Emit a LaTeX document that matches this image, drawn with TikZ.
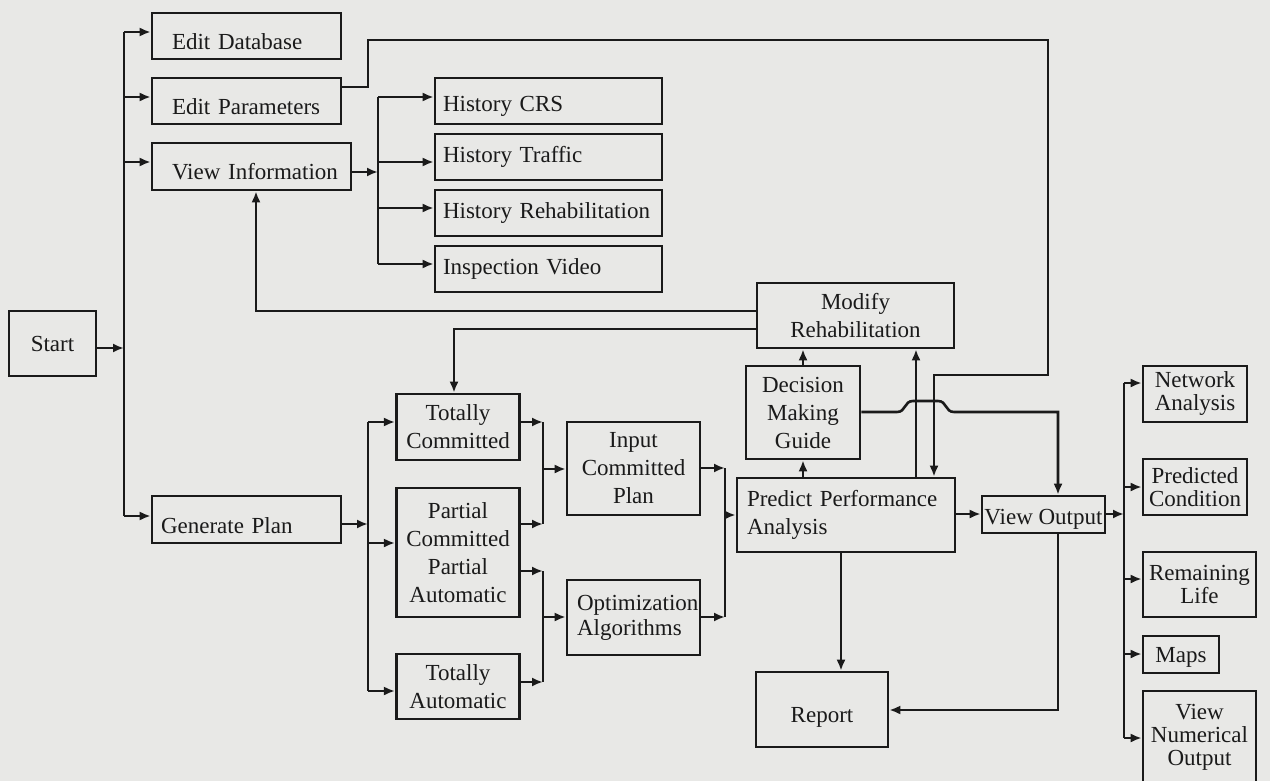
\documentclass[tikz,border=0pt]{standalone}
\usepackage{fontspec}
\setmainfont{Liberation Serif}
\usetikzlibrary{arrows.meta}
\definecolor{bg}{HTML}{E8E8E6}
\definecolor{ink}{HTML}{1A1A1A}
\begin{document}
\begin{tikzpicture}[x=1pt,y=-1pt,color=ink,line width=2.6pt,
  box/.style={draw=ink,rectangle,inner sep=0pt,text=ink,align=center,
    font=\fontsize{23}{28}\selectfont},
  rbox/.style={box,font=\fontsize{23}{23}\selectfont},
  arr/.style={-{Latex[length=11pt,width=9pt]}}]
\fill[bg] (0,0) rectangle (1270,781);
\useasboundingbox (0,0) rectangle (1270,781);

% ---------- boxes ----------
\node[box,minimum width=87pt,minimum height=65pt,text height=15pt,text depth=0pt] (start) at (52.5,343.5) {Start};
\node[box,minimum width=189pt,minimum height=46pt,align=left,inner xsep=20pt,text width=149pt,text height=27pt,text depth=0pt] (editdb) at (246.5,36) {\mbox{Edit Database}};
\node[box,minimum width=189pt,minimum height=46pt,align=left,inner xsep=20pt,text width=149pt,text height=27pt,text depth=0pt] (editpar) at (246.5,101) {\mbox{Edit Parameters}};
\node[box,minimum width=199pt,minimum height=47pt,align=left,inner xsep=20pt,text width=159pt,text height=27pt,text depth=0pt] (viewinfo) at (251.5,166.5) {\mbox{View Information}};
\node[box,minimum width=227pt,minimum height=46pt,align=left,inner xsep=8pt,text width=211pt,text height=21pt,text depth=0pt] (hcrs) at (548.5,101) {\mbox{History CRS}};
\node[box,minimum width=227pt,minimum height=46pt,align=left,inner xsep=8pt,text width=211pt] (htraf) at (548.5,157) {\mbox{History Traffic}};
\node[box,minimum width=227pt,minimum height=46pt,align=left,inner xsep=8pt,text width=211pt] (hrehab) at (548.5,213) {\mbox{History Rehabilitation}};
\node[box,minimum width=227pt,minimum height=46pt,align=left,inner xsep=8pt,text width=211pt] (insp) at (548.5,269) {\mbox{Inspection Video}};
\node[box,minimum width=197pt,minimum height=65pt] (modify) at (855.5,315.5) {Modify\\Rehabilitation};
\node[box,minimum width=114pt,minimum height=93pt] (dmg) at (803,412.5) {Decision\\Making\\Guide};
\node[box,minimum width=218pt,minimum height=74pt,align=left,inner xsep=10pt,text width=198pt] (ppa) at (846,515) {\mbox{Predict Performance}\\Analysis};
\node[box,minimum width=123pt,minimum height=37pt,text height=19pt,text depth=0pt] (viewout) at (1043.5,514.5) {View Output};
\node[box,minimum width=132pt,minimum height=75pt,text height=25pt,text depth=0pt] (report) at (822,709.5) {Report};
\node[rbox,minimum width=104pt,minimum height=56pt] (netan) at (1195,394) {Network\\Analysis};
\node[rbox,minimum width=104pt,minimum height=56pt] (predcond) at (1195,487) {Predicted\\Condition};
\node[rbox,minimum width=113pt,minimum height=65pt] (remlife) at (1199.5,584.5) {Remaining\\Life};
\node[rbox,minimum width=76pt,minimum height=37pt,text height=15pt,text depth=0pt] (maps) at (1181,654.5) {Maps};
\node[rbox,minimum width=113pt,minimum height=92pt] (viewnum) at (1199.5,737) {View\\Numerical\\Output};
\node[box,minimum width=189pt,minimum height=47pt,align=left,inner xsep=9pt,text width=171pt,text height=27pt,text depth=0pt] (genplan) at (246.5,519.5) {\mbox{Generate Plan}};
\node[box,minimum width=123.5pt,minimum height=66pt] (tc) at (458,427) {Totally\\Committed};
\node[box,minimum width=123.5pt,minimum height=129pt] (pcpa) at (458,552.5) {Partial\\Committed\\Partial\\Automatic};
\node[box,minimum width=123.5pt,minimum height=65pt] (ta) at (458,686.5) {Totally\\Automatic};
\node[box,minimum width=133pt,minimum height=93pt] (icp) at (633.5,468.5) {Input\\Committed\\Plan};
\node[box,minimum width=133pt,minimum height=75pt,align=left,inner xsep=10pt,text width=113pt,font=\fontsize{23}{25}\selectfont] (opt) at (633.5,617.5) {\mbox{Optimization}\\Algorithms};

% ---------- junction coordinates ----------
\coordinate (tA) at (124,32);
\coordinate (tB) at (124,97);
\coordinate (tC) at (124,162);
\coordinate (tS) at (124,348);
\coordinate (tD) at (124,516);
\coordinate (hA) at (378,97);
\coordinate (hB) at (378,162);
\coordinate (hC) at (378,208);
\coordinate (hD) at (378,264);
\coordinate (hV) at (378,172);
\coordinate (pA) at (368,87);
\coordinate (pB) at (1048,40);
\coordinate (pC) at (934,375);
\coordinate (mA) at (256,311);
\coordinate (mB) at (454,329);
\coordinate (vA) at (916,400);
\coordinate (bA) at (897,412);
\coordinate (bB) at (954,412);
\coordinate (vO) at (1058,412);
\coordinate (oA) at (960,514);
\coordinate (rV) at (1124,514);
\coordinate (rA) at (1124,383);
\coordinate (rB) at (1124,487);
\coordinate (rC) at (1124,579);
\coordinate (rD) at (1124,654);
\coordinate (rE) at (1124,738);
\coordinate (vR) at (1058,710);
\coordinate (pR) at (841,600);
\coordinate (gA) at (368,422);
\coordinate (gB) at (368,543);
\coordinate (gC) at (368,691);
\coordinate (gV) at (368,524);
\coordinate (jA) at (543,422);
\coordinate (jB) at (543,524);
\coordinate (jI) at (543,469);
\coordinate (jC) at (543,571);
\coordinate (jD) at (543,682);
\coordinate (jO) at (543,617);
\coordinate (kA) at (725,468);
\coordinate (kB) at (725,617);
\coordinate (kP) at (725,515);

% ---------- connectors ----------
\draw (tA) -- (tD);
\draw[arr] (start.east |- tS) -- (tS);
\draw[arr] (tA) -- (editdb.west |- tA);
\draw[arr] (tB) -- (editpar.west |- tB);
\draw[arr] (tC) -- (viewinfo.west |- tC);
\draw[arr] (tD) -- (genplan.west |- tD);

\draw (hA) -- (hD);
\draw[arr] (viewinfo.east |- hV) -- (hV);
\draw[arr] (hA) -- (hcrs.west |- hA);
\draw[arr] (hB) -- (htraf.west |- hB);
\draw[arr] (hC) -- (hrehab.west |- hC);
\draw[arr] (hD) -- (insp.west |- hD);

\draw[arr] (editpar.east |- pA) -- (pA) |- (pB) |- (pC) -- (pC |- ppa.north);
\draw[arr] (modify.west |- mA) -- (mA) -- (mA |- viewinfo.south);
\draw[arr] (modify.west |- mB) -- (mB) -- (mB |- tc.north);
\draw[arr] (dmg.north) -- (dmg.north |- modify.south);
\draw[arr] (dmg.south |- ppa.north) -- (dmg.south);
\draw[arr] (vA |- ppa.north) -- (vA |- modify.south);
\draw[arr] (dmg.east |- bA) -- (bA) .. controls (906,412) and (904,401) .. (913,401) -- (938,401) .. controls (947,401) and (945,412) .. (bB) -- (vO) -- (vO |- viewout.north);
\draw[arr] (ppa.east |- oA) -- (viewout.west |- oA);

\draw (rA) -- (rE);
\draw[arr] (viewout.east |- rV) -- (rV);
\draw[arr] (rA) -- (netan.west |- rA);
\draw[arr] (rB) -- (predcond.west |- rB);
\draw[arr] (rC) -- (remlife.west |- rC);
\draw[arr] (rD) -- (maps.west |- rD);
\draw[arr] (rE) -- (viewnum.west |- rE);
\draw[arr] (vR |- viewout.south) -- (vR) -- (report.east |- vR);
\draw[arr] (pR |- ppa.south) -- (pR |- report.north);

\draw (gA) -- (gC);
\draw[arr] (genplan.east |- gV) -- (gV);
\draw[arr] (gA) -- (tc.west |- gA);
\draw[arr] (gB) -- (pcpa.west |- gB);
\draw[arr] (gC) -- (ta.west |- gC);

\draw (jA) -- (jB);
\draw (jC) -- (jD);
\draw[arr] (tc.east |- jA) -- (jA);
\draw[arr] (pcpa.east |- jB) -- (jB);
\draw[arr] (jI) -- (icp.west |- jI);
\draw[arr] (pcpa.east |- jC) -- (jC);
\draw[arr] (ta.east |- jD) -- (jD);
\draw[arr] (jO) -- (opt.west |- jO);

\draw (kA) -- (kB);
\draw[arr] (icp.east |- kA) -- (kA);
\draw[arr] (opt.east |- kB) -- (kB);
\draw[arr] (kP) -- (ppa.west |- kP);
\end{tikzpicture}
\end{document}
